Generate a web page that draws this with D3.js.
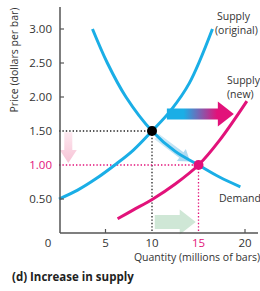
<!DOCTYPE html>
<html><head><meta charset="utf-8">
<script src="https://cdn.jsdelivr.net/npm/d3@7"></script>
<style>body{margin:0;background:#fff}svg{display:block}text{font-family:"Open Sans","DejaVu Sans",sans-serif}</style>
</head><body><svg id="c" width="260" height="291"></svg>
<script>
const xTicks = [5, 10, 15, 20];
const yTicks = [0.5, 1.0, 1.5, 2.0, 2.5, 3.0];
const demand = [[3.6,3.0],[5.2,2.5],[7.2,2.0],[10,1.5],[12.5,1.2],[15,1.0],[17.3,0.82],[19.5,0.68]];
const supplyOriginal = [[0,0.5],[2,0.63],[4,0.8],[6,1.0],[8,1.22],[10,1.5],[12,1.8],[14,2.2],[16.5,3.0]];
const supplyNew = [[6.3,0.21],[8,0.34],[10.1,0.5],[12.5,0.72],[15,1.0],[17.3,1.37],[20.2,1.94]];
const eqOld = [10, 1.5];
const eqNew = [15, 1.0];
const cyan = "#1aaee6", pink = "#e2127a";

const svg = d3.select("#c");
const x = d3.scaleLinear().domain([0,20]).range([59,245]);
const y = d3.scaleLinear().domain([0,3]).range([233,29]);

const defs = svg.append("defs");
const g = defs.append("linearGradient").attr("id","gr").attr("x1","0%").attr("x2","100%");
g.append("stop").attr("offset","0%").attr("stop-color",cyan);
g.append("stop").attr("offset","25%").attr("stop-color",cyan);
g.append("stop").attr("offset","75%").attr("stop-color",pink);
g.append("stop").attr("offset","100%").attr("stop-color",pink);
const gb = defs.append("linearGradient").attr("id","gb").attr("x1","0%").attr("x2","100%");
gb.append("stop").attr("offset","0%").attr("stop-color","#d4ecf8");
gb.append("stop").attr("offset","100%").attr("stop-color","#a6d6ef");
const gp = defs.append("linearGradient").attr("id","gp").attr("x1","0%").attr("x2","100%");
gp.append("stop").attr("offset","0%").attr("stop-color","#fde8ef");
gp.append("stop").attr("offset","100%").attr("stop-color","#f7c3d6");

function arrow(x0,y0,x1,y1,shaftW,headW,headL,fill){
  const dx=x1-x0, dy=y1-y0, L=Math.hypot(dx,dy), ang=Math.atan2(dy,dx)*180/Math.PI;
  const s=shaftW/2,h=headW/2;
  const pts=[[0,-s],[L-headL,-s],[L-headL,-h],[L,0],[L-headL,h],[L-headL,s],[0,s]];
  svg.append("polygon").attr("points",pts.map(p=>p.join(",")).join(" "))
    .attr("transform",`translate(${x0},${y0}) rotate(${ang})`).attr("fill",fill);
}
arrow(x(1.0),y(1.48),x(1.0),y(1.03),8,17,13,"url(#gp)");
arrow(x(10.3),y(0.16),x(14.7),y(0.16),14,25,16,"#cfe7d6");
arrow(x(10.5),y(1.42),x(14.1),y(1.05),7,15,11,"url(#gb)");

const dot = (x1,y1,x2,y2,c)=>svg.append("line").attr("x1",x1).attr("x2",x2).attr("y1",y1).attr("y2",y2)
  .attr("stroke",c).attr("stroke-width",1.3).attr("stroke-dasharray","1.4,2");
dot(x(0),y(eqOld[1]),x(eqOld[0]),y(eqOld[1]),"#222");
dot(x(eqOld[0]),y(eqOld[1]),x(eqOld[0]),y(0),"#222");
dot(x(0),y(eqNew[1]),x(eqNew[0]),y(eqNew[1]),pink);
dot(x(eqNew[0]),y(eqNew[1]),x(eqNew[0]),y(0),pink);

const line = d3.line().x(d=>x(d[0])).y(d=>y(d[1])).curve(d3.curveCatmullRom);
svg.append("path").attr("d",line(demand)).attr("fill","none").attr("stroke",cyan).attr("stroke-width",3);
svg.append("path").attr("d",line(supplyOriginal)).attr("fill","none").attr("stroke",cyan).attr("stroke-width",3);
svg.append("path").attr("d",line(supplyNew)).attr("fill","none").attr("stroke",pink).attr("stroke-width",3);

arrow(x(11.6),y(1.75),x(18.8),y(1.75),11,25,16,"url(#gr)");

svg.append("circle").attr("cx",x(eqOld[0])).attr("cy",y(eqOld[1])).attr("r",5).attr("fill","#000");
svg.append("circle").attr("cx",x(eqNew[0])).attr("cy",y(eqNew[1])).attr("r",5).attr("fill",pink);

svg.append("line").attr("x1",60).attr("x2",60).attr("y1",7).attr("y2",233).attr("stroke","#555").attr("stroke-width",1.5);
svg.append("line").attr("x1",60).attr("x2",258).attr("y1",233).attr("y2",233).attr("stroke","#555").attr("stroke-width",1.5);
xTicks.forEach(t=>{
  if(t===10||t===15) return;
  svg.append("line").attr("x1",x(t)).attr("x2",x(t)).attr("y1",233).attr("y2",229).attr("stroke","#555").attr("stroke-width",1.2);
});
yTicks.forEach(t=>{
  if(t===1.5||t===1.0) return;
  svg.append("line").attr("x1",60).attr("x2",64).attr("y1",y(t)).attr("y2",y(t)).attr("stroke","#555").attr("stroke-width",1.2);
});
const fmt = d3.format(".2f");
yTicks.forEach(t=>{
  svg.append("text").attr("x",52).attr("y",y(t)+4).attr("text-anchor","end").attr("font-size",11.5)
    .attr("fill",t===1.0?pink:"#333").text(fmt(t));
});
svg.append("text").attr("x",48).attr("y",247).attr("text-anchor","middle").attr("font-size",11.5).attr("fill","#333").text("0");
xTicks.forEach(t=>{
  svg.append("text").attr("x",x(t)).attr("y",247).attr("text-anchor","middle").attr("font-size",11.5)
    .attr("fill",t===15?pink:"#333").text(t);
});
svg.append("text").attr("x",197).attr("y",261).attr("text-anchor","middle").attr("font-size",10.5).attr("fill","#333")
  .text("Quantity (millions of bars)");
svg.append("text").attr("transform","translate(18,60) rotate(-90)").attr("text-anchor","middle").attr("font-size",10.5)
  .attr("fill","#333").text("Price (dollars per bar)");

const lab=(tx,ty,s)=>svg.append("text").attr("x",tx).attr("y",ty).attr("font-size",10.5).attr("fill","#333").text(s);
lab(217,20,"Supply"); lab(215,34,"(original)");
lab(227,84,"Supply"); lab(227,98,"(new)");
lab(219,202,"Demand");

svg.append("text").attr("x",12).attr("y",281).attr("font-size",11.5).attr("font-weight","bold").attr("fill","#222")
  .text("(d) Increase in supply");
</script></body></html>
